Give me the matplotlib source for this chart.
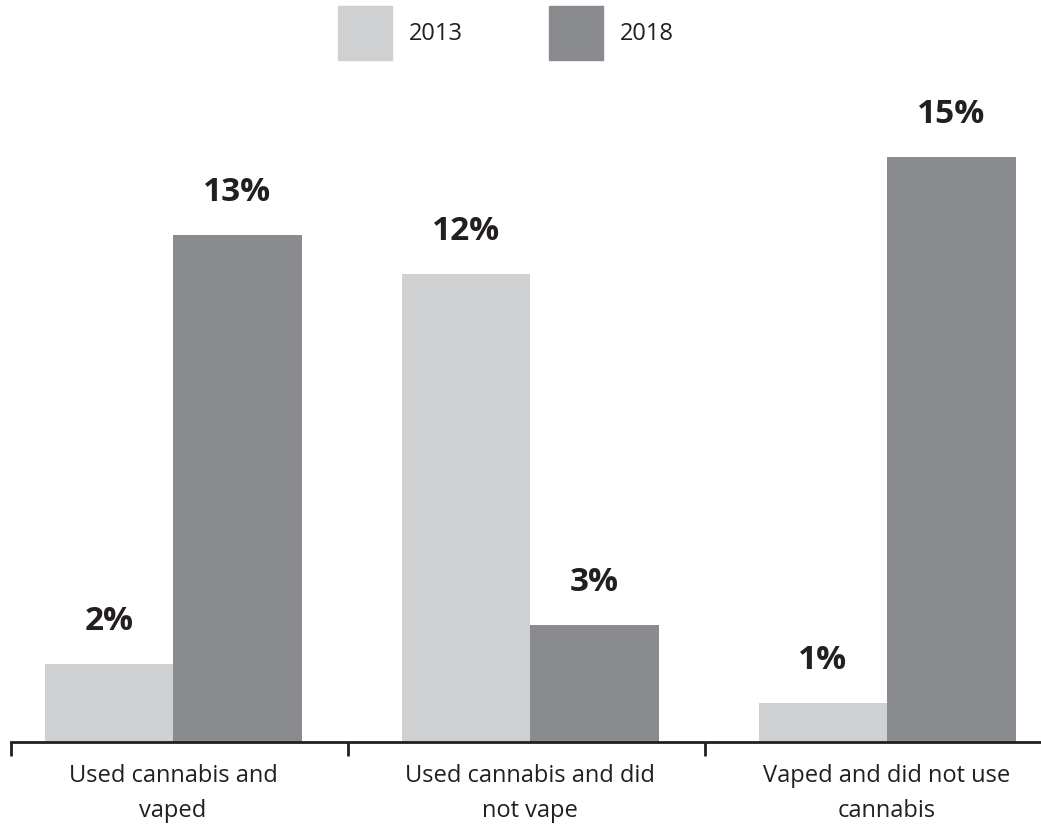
import matplotlib.pyplot as plt
from matplotlib.patches import Rectangle
import numpy as np

categories = ['Used cannabis and\nvaped', 'Used cannabis and did\nnot vape', 'Vaped and did not use\ncannabis']
years = ['2013', '2018']
vals_2013 = [2, 12, 1]
vals_2018 = [13, 3, 15]

light = '#cfd0d2'
dark = '#8a8b8f'
ink = '#231f20'

plt.rcParams['font.family'] = ['Open Sans', 'DejaVu Sans']

fig = plt.figure(figsize=(10.41, 8.27), dpi=100)
# axes spans pixel x 11..1041, y 0..742 (baseline)
ax = fig.add_axes([11 / 1041, (827 - 742) / 827, 1030 / 1041, 742 / 827])

x = np.arange(len(categories))
w = 0.36
b1 = ax.bar(x - w / 2, vals_2013, w, color=light)
b2 = ax.bar(x + w / 2, vals_2018, w, color=dark)

for bars, vals in ((b1, vals_2013), (b2, vals_2018)):
    for r, v in zip(bars, vals):
        ax.annotate(f'{v}%', (r.get_x() + r.get_width() / 2, v),
                    xytext=(0, 18.5), textcoords='offset points',
                    ha='center', va='bottom', fontsize=24,
                    fontweight='bold', color=ink)

ax.set_xlim(-0.454, 2.431)
ax.set_ylim(0, 742 / 39)

for s in ['top', 'right', 'left']:
    ax.spines[s].set_visible(False)
ax.spines['bottom'].set_linewidth(2)
ax.spines['bottom'].set_color(ink)
ax.set_yticks([])

ax.set_xticks([-0.454, 0.49, 1.49])
ax.set_xticklabels([])
ax.tick_params(axis='x', which='major', length=10, width=2, color=ink)
ax.set_xticks(x, minor=True)
ax.set_xticklabels(categories, minor=True, fontsize=17, color=ink, linespacing=1.62)
ax.tick_params(axis='x', which='minor', length=0, pad=16)

# legend
for (px, lbl, col) in ((338, years[0], light), (549, years[1], dark)):
    fig.add_artist(Rectangle((px / 1041, 1 - 60 / 827), 54 / 1041, 54 / 827,
                             transform=fig.transFigure, color=col))
    fig.text((px + 71) / 1041, 1 - 34 / 827, lbl, fontsize=17,
             color=ink, va='center', ha='left')

fig.savefig('out.png', dpi=100)
